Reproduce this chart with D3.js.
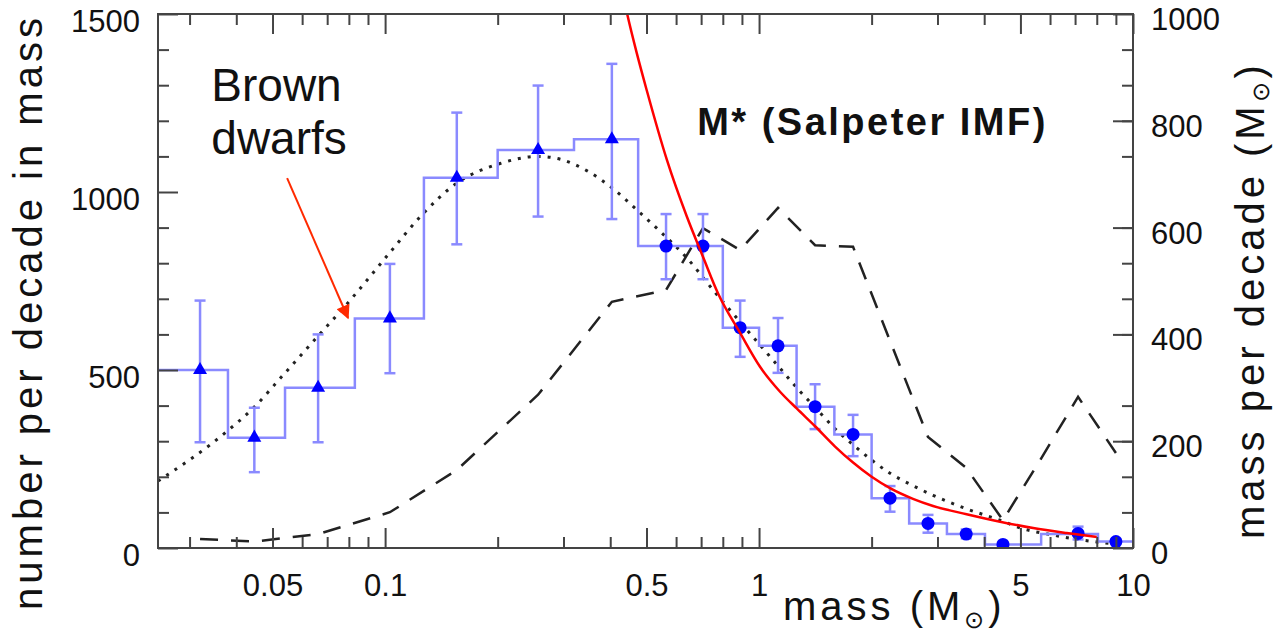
<!DOCTYPE html>
<html>
<head>
<meta charset="utf-8">
<title>Mass function</title>
<script src="https://cdn.jsdelivr.net/npm/d3@7"></script>
<style>
    body { margin: 0; background: #fff; }
    text { font-family: "Liberation Sans", Arial, Helvetica, sans-serif; fill: #111; }
    .title { font-size: 40px; letter-spacing: 4px; }
    .note { font-size: 46px; }
    .imf { font-size: 38px; font-weight: bold; letter-spacing: 2.5px; }
</style>
</head>
<body>
<script>

    // histogram (number per decade), step edges and heights
    var binEdges  = [0.0247, 0.038, 0.054, 0.083, 0.127, 0.2, 0.32, 0.475, 0.8, 1.0, 1.26, 1.59, 2.0, 2.52, 3.18, 4.02, 5.68, 8.06, 10];
    var binCounts = [500, 310, 450, 645, 1040, 1118, 1148, 848, 619, 568, 397, 319, 140, 69, 39, 10, 39, 18];

    // triangles (low mass)
    var lowMass  = [0.032, 0.0447, 0.0662, 0.103, 0.1555, 0.2565, 0.404];
    var lowCount = [500, 310, 450, 645, 1040, 1118, 1148];
    var lowErrLo = [297, 213, 297, 491, 853, 931, 924];
    var lowErrHi = [695, 394, 600, 798, 1223, 1299, 1360];

    // circles (higher mass)
    var highMass  = [0.564, 0.708, 0.890, 1.124, 1.412, 1.784, 2.24, 2.83, 3.58, 4.49, 7.13, 9.0];
    var highCount = [848, 848, 619, 568, 397, 319, 140, 69, 39, 10, 41, 18];
    var highErrLo = [755, 755, 537, 492, 334, 258, 102, 43, 27, 3, 24, 11];
    var highErrHi = [938, 938, 695, 646, 460, 374, 174, 93, 52, 17, 60, 25];

    // dotted fit (left axis)
    var fitMass  = [0.0247, 0.0377, 0.0444, 0.0533, 0.066, 0.0805, 0.103, 0.124, 0.1555, 0.203, 0.2565, 0.294, 0.346, 0.404, 0.471, 0.543, 0.641, 0.753, 0.89, 1.006, 1.138, 1.261, 1.412, 1.597, 1.784, 2.0, 2.24, 2.58, 2.92, 3.59, 4.41, 5.04, 6.0, 7.13, 8.0, 9.2];
    var fitCount = [188, 327, 393, 485, 594, 695, 830, 930, 1025, 1080, 1100, 1092, 1060, 1012, 950, 890, 815, 725, 635, 570, 505, 450, 395, 335, 290, 247, 210, 175, 148, 110, 78, 55, 38, 24, 17, 10];

    // red Salpeter curve (left axis)
    var imfMass  = [0.42, 0.444, 0.471, 0.501, 0.567, 0.641, 0.708, 0.777, 0.89, 1.006, 1.138, 1.261, 1.412, 1.597, 1.784, 2.0, 2.24, 2.58, 2.92, 3.59, 4.41, 5.41, 6.65, 8.0];
    var imfCount = [1620, 1500, 1390, 1285, 1090, 931, 818, 715, 604, 509, 439, 392, 342, 285, 240, 200, 168, 138, 118, 95, 74, 56, 42, 31];

    // dashed mass per decade (right axis)
    var mpdMass  = [0.032, 0.0447, 0.0662, 0.103, 0.1555, 0.2565, 0.404, 0.564, 0.708, 0.89, 1.124, 1.412, 1.784, 2.24, 2.83, 3.58, 4.49, 5.65, 7.13, 9.0];
    var mpdValue = [17, 12, 26, 67, 146, 287, 461, 483, 599, 558, 637, 567, 564, 388, 208, 150, 52, 165, 283, 178];

    var xMajor = [0.05, 0.1, 0.5, 1, 5, 10],
        xTickLabels = ["0.05", "0.1", "0.5", "1", "5", "10"],
        xMinor = [0.03, 0.04, 0.06, 0.07, 0.08, 0.09, 0.2, 0.3, 0.4, 0.6, 0.7, 0.8, 0.9, 2, 3, 4, 6, 7, 8, 9],
        yLeftMajor = [0, 500, 1000, 1500],
        yLeftLabels = ["0", "500", "1000", "1500"],
        yLeftMinor = [100, 200, 300, 400, 600, 700, 800, 900, 1100, 1200, 1300, 1400],
        yRightMajor = [0, 200, 400, 600, 800, 1000],
        yRightLabels = ["0", "200", "400", "600", "800", "1000"];

    var w = 1278, h = 638,
        pLeft = 158, pRight = 1133, pTop = 14, pBottom = 548;

    var x = d3.scaleLog().domain([0.0247, 10]).range([pLeft, pRight]);
    var yL = d3.scaleLinear().domain([0, 1500]).range([pBottom, pTop]);
    var yR = d3.scaleLinear().domain([0, 1000]).range([pBottom, pTop]);

    var svg = d3.select("body").append("svg")
            .attr("width", w)
            .attr("height", h);

    svg.append("clipPath").attr("id", "plot")
        .append("rect")
        .attr("x", pLeft).attr("y", pTop)
        .attr("width", pRight - pLeft).attr("height", pBottom - pTop);

    var plot = svg.append("g").attr("clip-path", "url(#plot)");

    // dashed: mass per decade
    plot.append("path")
        .attr("d", d3.line()
            .x(function (d, i) { return x(mpdMass[i]); })
            .y(function (d) { return yR(d); })(mpdValue))
        .attr("fill", "none")
        .attr("stroke", "#222")
        .attr("stroke-width", 2.5)
        .attr("stroke-dasharray", "18,13");

    // dotted fit
    plot.append("path")
        .attr("d", d3.line()
            .x(function (d, i) { return x(fitMass[i]); })
            .y(function (d) { return yL(d); })
            .curve(d3.curveMonotoneX)(fitCount))
        .attr("fill", "none")
        .attr("stroke", "#222")
        .attr("stroke-width", 3)
        .attr("stroke-dasharray", "3,7");

    // histogram
    var steps = binEdges.map(function (e, i) {
        return [e, binCounts[Math.min(i, binCounts.length - 1)]];
    });
    plot.append("path")
        .attr("d", d3.line()
            .x(function (d) { return x(d[0]); })
            .y(function (d) { return yL(d[1]); })
            .curve(d3.curveStepAfter)(steps))
        .attr("fill", "none")
        .attr("stroke", "#8a8aff")
        .attr("stroke-width", 2.5);

    // error bars
    var pts = lowMass.map(function (m, i) {
        return {m: m, v: lowCount[i], lo: lowErrLo[i], hi: lowErrHi[i], tri: true};
    }).concat(highMass.map(function (m, i) {
        return {m: m, v: highCount[i], lo: highErrLo[i], hi: highErrHi[i], tri: false};
    }));

    var err = plot.append("g")
        .attr("stroke", "#8a8aff")
        .attr("stroke-width", 2.5);
    err.selectAll("line.bar").data(pts).enter().append("line")
        .attr("class", "bar")
        .attr("x1", function (d) { return x(d.m); })
        .attr("x2", function (d) { return x(d.m); })
        .attr("y1", function (d) { return yL(d.lo); })
        .attr("y2", function (d) { return yL(d.hi); });
    ["lo", "hi"].forEach(function (k) {
        err.selectAll("line.cap" + k).data(pts).enter().append("line")
            .attr("class", "cap" + k)
            .attr("x1", function (d) { return x(d.m) - 5.5; })
            .attr("x2", function (d) { return x(d.m) + 5.5; })
            .attr("y1", function (d) { return yL(d[k]); })
            .attr("y2", function (d) { return yL(d[k]); });
    });

    // markers
    plot.selectAll("path.tri")
        .data(pts.filter(function (d) { return d.tri; }))
        .enter().append("path")
        .attr("class", "tri")
        .attr("d", d3.symbol(d3.symbolTriangle, 85))
        .attr("transform", function (d) { return "translate(" + x(d.m) + "," + yL(d.v) + ")"; })
        .attr("fill", "#0000ff");

    plot.selectAll("circle")
        .data(pts.filter(function (d) { return !d.tri; }))
        .enter().append("circle")
        .attr("cx", function (d) { return x(d.m); })
        .attr("cy", function (d) { return yL(d.v); })
        .attr("r", 6.5)
        .attr("fill", "#0000ff");

    // red Salpeter curve
    plot.append("path")
        .attr("d", d3.line()
            .x(function (d, i) { return x(imfMass[i]); })
            .y(function (d) { return yL(d); })
            .curve(d3.curveMonotoneX)(imfCount))
        .attr("fill", "none")
        .attr("stroke", "#ff0000")
        .attr("stroke-width", 2.5);

    // frame
    svg.append("rect")
        .attr("x", pLeft).attr("y", pTop)
        .attr("width", pRight - pLeft).attr("height", pBottom - pTop)
        .attr("fill", "none")
        .attr("stroke", "#444")
        .attr("stroke-width", 2);

    function styleAxis(g) {
        g.select(".domain").remove();
        g.attr("font-size", 31)
            .attr("font-family", "'Liberation Sans', Arial, sans-serif")
            .attr("color", "#444");
        g.selectAll(".tick line").attr("stroke-width", 2);
        g.selectAll(".tick text").attr("fill", "#111");
    }

    // bottom
    svg.append("g").attr("transform", "translate(0," + pBottom + ")")
        .call(d3.axisBottom(x).tickValues(xMajor).tickSize(-20).tickPadding(26)
            .tickFormat(function (d, i) { return xTickLabels[i]; }))
        .call(styleAxis);
    svg.append("g").attr("transform", "translate(0," + pBottom + ")")
        .call(d3.axisBottom(x).tickValues(xMinor).tickSize(-11).tickFormat(""))
        .call(styleAxis);
    // top
    svg.append("g").attr("transform", "translate(0," + pTop + ")")
        .call(d3.axisTop(x).tickValues(xMajor).tickSize(-20).tickFormat(""))
        .call(styleAxis);
    svg.append("g").attr("transform", "translate(0," + pTop + ")")
        .call(d3.axisTop(x).tickValues(xMinor).tickSize(-11).tickFormat(""))
        .call(styleAxis);
    // left
    svg.append("g").attr("transform", "translate(" + pLeft + ",0)")
        .call(d3.axisLeft(yL).tickValues(yLeftMajor).tickSize(-20).tickPadding(18)
            .tickFormat(function (d, i) { return yLeftLabels[i]; }))
        .call(styleAxis)
        .selectAll(".tick text").attr("dy", "0.55em");
    svg.append("g").attr("transform", "translate(" + pLeft + ",0)")
        .call(d3.axisLeft(yL).tickValues(yLeftMinor).tickSize(-11).tickFormat(""))
        .call(styleAxis);
    // right
    svg.append("g").attr("transform", "translate(" + pRight + ",0)")
        .call(d3.axisRight(yR).tickValues(yRightMajor).tickSize(-20).tickPadding(18)
            .tickFormat(function (d, i) { return yRightLabels[i]; }))
        .call(styleAxis)
        .selectAll(".tick text").attr("dy", "0.5em");
    svg.append("g").attr("transform", "translate(" + pRight + ",0)")
        .call(d3.axisRight(yL).tickValues(yLeftMinor).tickSize(-11).tickFormat(""))
        .call(styleAxis);

    // axis titles
    svg.append("text")
        .attr("class", "title")
        .attr("transform", "translate(42,312) rotate(-90)")
        .attr("text-anchor", "middle")
        .text("number per decade in mass");

    var xt = svg.append("text")
        .attr("class", "title")
        .attr("x", 783).attr("y", 620);
    xt.append("tspan").text("mass (M");
    xt.append("tspan").attr("dy", 8).attr("font-size", 24).text("⊙");
    xt.append("tspan").attr("dy", -8).text(")");

    var rt = svg.append("text")
        .attr("class", "title")
        .attr("transform", "translate(1264,300) rotate(-90)")
        .attr("text-anchor", "middle");
    rt.append("tspan").text("mass per decade (M");
    rt.append("tspan").attr("dy", 5).attr("font-size", 24).text("⊙");
    rt.append("tspan").attr("dy", -5).text(")");

    // annotations
    var note = svg.append("text").attr("class", "note");
    note.append("tspan").attr("x", x(0.0343)).attr("y", yL(1256)).text("Brown");
    note.append("tspan").attr("x", x(0.0343)).attr("y", yL(1256) + 53).text("dwarfs");

    svg.append("defs").append("marker")
        .attr("id", "head")
        .attr("viewBox", "0 0 10 10")
        .attr("refX", 9).attr("refY", 5)
        .attr("markerWidth", 8).attr("markerHeight", 7)
        .attr("markerUnits", "strokeWidth")
        .attr("orient", "auto")
        .append("path").attr("d", "M0,0L10,5L0,10Z").attr("fill", "#ff2a00");

    svg.append("line")
        .attr("x1", x(0.0547)).attr("y1", yL(1039))
        .attr("x2", x(0.0796)).attr("y2", yL(646))
        .attr("stroke", "#ff2a00")
        .attr("stroke-width", 2)
        .attr("marker-end", "url(#head)");

    svg.append("text")
        .attr("class", "imf")
        .attr("x", x(0.683)).attr("y", yL(1160))
        .text("M* (Salpeter IMF)");

</script>
</body>
</html>
